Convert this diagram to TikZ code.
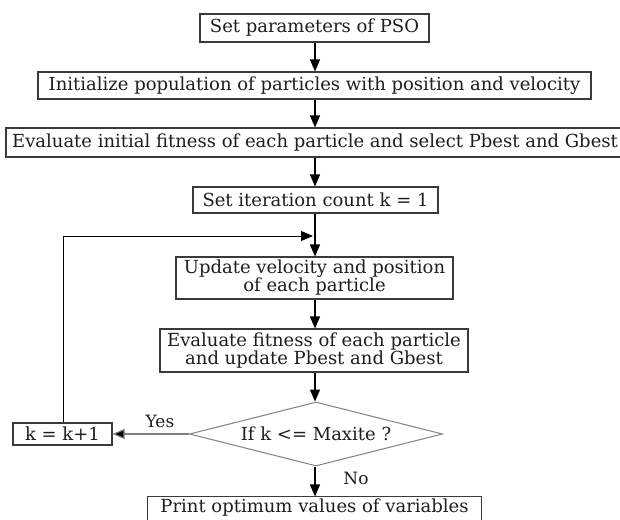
\documentclass[tikz,border=0pt]{standalone}
\usepackage{fontspec}
\setmainfont{DejaVu Serif}
\usetikzlibrary{shapes.geometric,arrows.meta}
\definecolor{boxline}{HTML}{3A3A3A}
\definecolor{dialine}{HTML}{808080}
\definecolor{txt}{HTML}{1E1E1E}
\tikzset{
  stepbox/.style={draw=boxline,line width=1.1pt,fill=white,inner sep=0pt,
    text=txt,font=\fontsize{18}{18}\selectfont,align=center},
  decbox/.style={diamond,draw=dialine,line width=1pt,inner sep=0pt,
    text=txt,font=\fontsize{18}{18}\selectfont,aspect=4},
  flow/.style={draw=black,line width=1.1pt,-{Triangle[length=12pt,width=10pt]}},
  lbl/.style={text=txt,font=\fontsize{17}{20}\selectfont,inner sep=0pt}
}
\begin{document}
\begin{tikzpicture}[x=1pt,y=-1pt]
\useasboundingbox (0,0) rectangle (620,519);
\node[stepbox,minimum width=229pt,minimum height=28pt] (b1) at (314.5,28) {Set parameters of PSO};
\node[stepbox,minimum width=553pt,minimum height=27pt] (b2) at (314.5,85.5) {Initialize population of particles with position and velocity};
\node[stepbox,minimum width=618pt,minimum height=29pt] (b3) at (315,142.5) {Evaluate initial fitness of each particle and select Pbest and Gbest};
\node[stepbox,minimum width=245pt,minimum height=26pt] (b4) at (315.5,200) {Set iteration count k = 1};
\node[stepbox,minimum width=277pt,minimum height=42pt] (b5) at (314.5,278) {Update velocity and position\\of each particle};
\node[stepbox,minimum width=308pt,minimum height=43pt] (b6) at (314,350.5) {Evaluate fitness of each particle\\and update Pbest and Gbest};
\node[decbox,minimum width=253pt,minimum height=64pt] (d) at (316,434) {If k <= Maxite ?};
\node[stepbox,minimum width=99pt,minimum height=22pt] (k) at (62.5,434) {k = k+1};
\node[stepbox,draw=none,minimum width=333pt,minimum height=22pt] (p) at (314.5,508) {Print optimum values of variables};
\draw[draw=boxline,line width=1.1pt] (p.south west) |- (p.north east) -- (p.south east);
\node[lbl] (yes) at (160,421) {Yes};
\node[lbl] (no) at (356,478) {No};
\coordinate (loopend) at (313,236);
\coordinate (loopcorner) at (63,236);
\draw[flow] (b1.south -| 315,0) -- (b2.north -| 315,0);
\draw[flow] (b2.south -| 315,0) -- (b3.north -| 315,0);
\draw[flow] (b3.south -| 315,0) -- (b4.north -| 315,0);
\draw[flow] (b4.south -| 315,0) -- (b5.north -| 315,0);
\draw[flow] (b5.south -| 315,0) -- (b6.north -| 315,0);
\draw[flow] (b6.south -| 315,0) -- (d.north -| 315,0);
\draw[flow] (d.south -| 315,0) -- (p.north -| 315,0);
\draw[draw=dialine,line width=1.1pt,-{Triangle[length=12pt,width=10pt,fill=black]}] (d.west) -- (k.east);
\draw[flow,line width=1pt] (k.north -| loopcorner) -- (loopcorner) -- (loopend);
\end{tikzpicture}
\end{document}
